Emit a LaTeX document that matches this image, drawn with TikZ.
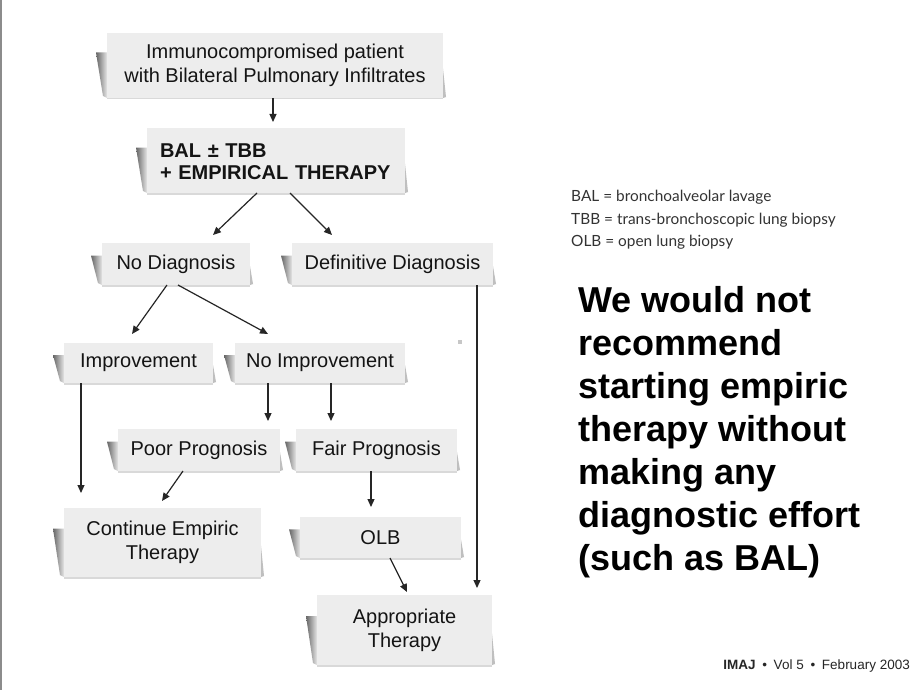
\documentclass[tikz,border=0pt]{standalone}
\usepackage{fontspec}
\setmainfont{Liberation Sans}
\newfontfamily\legendfont{Lato}
\usetikzlibrary{arrows.meta,calc}
\definecolor{boxfill}{HTML}{EDEDED}
\tikzset{
  fbox/.style={fill=boxfill, inner sep=0pt, outer sep=0pt, align=center,
    font=\fontsize{20}{24}\selectfont, text=black!92},
  arr/.style={line width=1.2pt, black!85, -{Triangle[length=8pt,width=7pt]}},
}
\newcommand{\mybox}[6]{%
  \shade[left color=black!60, right color=black!10]
    ({#2-11},{#3+0.3*(#5-#3)}) -- (#2,{#3+0.3*(#5-#3)}) -- (#2,#5) -- ({#2-4},{#5-2}) -- cycle;
  \fill[black!25] (#4,{#3+0.55*(#5-#3)}) -- ({#4+3},{#5-1}) -- (#4,#5) -- cycle;
  \fill[black!15] (#2,#5) rectangle (#4,{#5+1.5});
  \node[fbox, minimum width={(#4-#2)*1pt}, minimum height={(#5-#3)*1pt}] (#1)
    at ({(#2+#4)/2},{(#3+#5)/2}) {#6};
}
\begin{document}
\begin{tikzpicture}[x=1pt,y=-1pt]
\fill[white] (0,0) rectangle (920,690);
\useasboundingbox (0,0) rectangle (920,690);
\fill[black!45] (0,0) rectangle (2,690);

\mybox{top}{107}{33}{443}{98}{Immunocompromised patient\\with Bilateral Pulmonary Infiltrates}
\mybox{bal}{147}{128}{405}{193}{}
\node[fbox, fill=none, text width=232pt, align=left, font=\bfseries\fontsize{20}{22}\selectfont] (baltext) at ([yshift=-1.5pt]bal.center) {BAL ± TBB\\+ EMPIRICAL THERAPY};
\mybox{nod}{102}{243}{250}{285}{No Diagnosis}
\mybox{def}{292}{243}{493}{285}{Definitive Diagnosis}
\mybox{imp}{64}{343}{213}{383}{Improvement}
\mybox{noi}{235}{343}{405}{383}{No Improvement}
\mybox{poor}{118}{429}{280}{471}{Poor Prognosis}
\mybox{fair}{296}{429}{457}{471}{Fair Prognosis}
\mybox{cont}{64}{508}{261}{577}{Continue Empiric\\Therapy}
\mybox{olb}{300}{517}{461}{558}{OLB}
\mybox{appr}{317}{595}{492}{665}{Appropriate\\Therapy}

\draw[arr] ([xshift=-2pt]top.south) -- ([xshift=-3pt,yshift=6pt]bal.north);
\draw[arr] ([xshift=-19pt]bal.south) -- ([xshift=37pt,yshift=8pt]nod.north);
\draw[arr] ([xshift=14pt]bal.south) -- ([xshift=-60.5pt,yshift=8pt]def.north);
\draw[arr] ([xshift=-9pt]nod.south) -- ([xshift=-6.5pt,yshift=9pt]imp.north);
\draw[arr] ([xshift=2pt]nod.south) -- ([xshift=-52pt,yshift=9pt]noi.north);
\draw[arr] ([xshift=84.5pt]def.south) -- ([xshift=72.5pt,yshift=7pt]appr.north);
\draw[arr] ([xshift=-57.5pt]imp.south) -- ([xshift=-81.5pt,yshift=15pt]cont.north);
\draw[arr] ([xshift=-52pt]noi.south) -- ([xshift=69pt,yshift=8pt]poor.north);
\draw[arr] ([xshift=11pt]noi.south) -- ([xshift=-45.5pt,yshift=8pt]fair.north);
\draw[arr] ([xshift=-16pt]poor.south) -- ([xshift=-0.5pt,yshift=7pt]cont.north);
\draw[arr] ([xshift=-5.5pt]fair.south) -- ([xshift=-9.5pt,yshift=10pt]olb.north);
\draw[arr] ([xshift=9.5pt]olb.south) -- ([xshift=2.5pt,yshift=3pt]appr.north);

\fill[black!22] (458,340) rectangle (462,344);

\node[anchor=north west, inner sep=0pt, align=left, text=black!80,
  font=\legendfont\fontsize{15.4}{22.5}\selectfont] (legend) at (571,190)
  {BAL = bronchoalveolar lavage\\TBB = trans-bronchoscopic lung biopsy\\OLB = open lung biopsy};

\node[anchor=north west, inner sep=0pt, align=left, text=black,
  font=\bfseries\fontsize{36}{43}\selectfont] (msg) at (578,286.5)
  {We would not\\recommend\\starting empiric\\therapy without\\making any\\diagnostic effort\\(such as BAL)};

\node[anchor=base east, inner sep=0pt, text=black!85,
  font=\fontsize{13.5}{15}\selectfont] (footer) at (910,669)
  {\textbf{IMAJ}\enspace•\enspace Vol 5\enspace•\enspace February 2003};
\end{tikzpicture}
\end{document}
